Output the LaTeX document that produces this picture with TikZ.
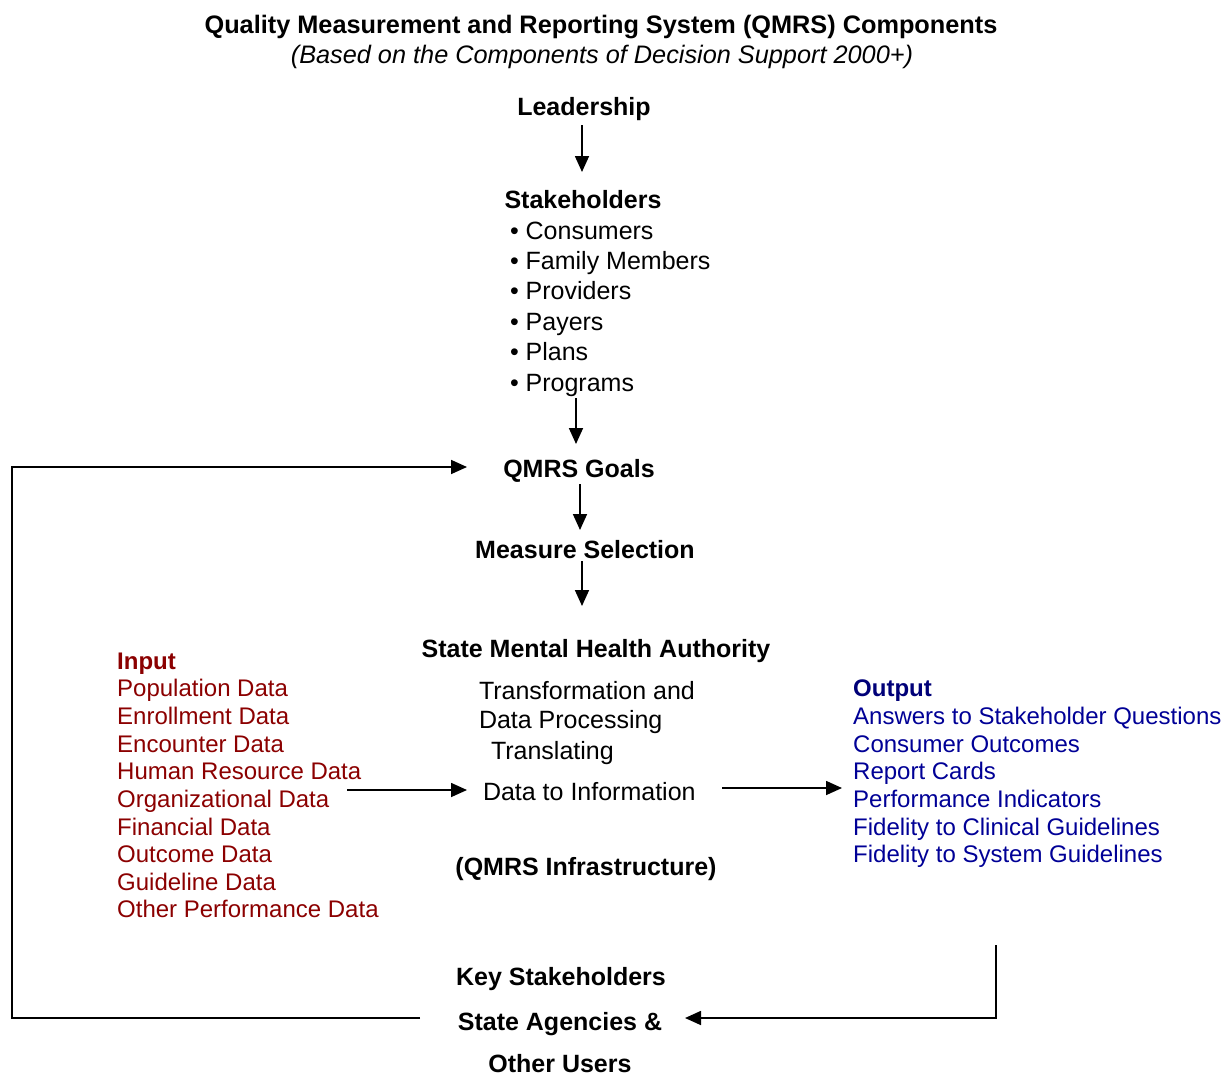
\documentclass[tikz,border=0pt]{standalone}
\usepackage{fontspec}
\setmainfont{Liberation Sans}
\usetikzlibrary{arrows.meta}
\definecolor{inred}{RGB}{139,0,0}
\definecolor{outblue}{RGB}{0,0,150}
\definecolor{outnavy}{RGB}{0,0,120}
\tikzset{
  base/.style={inner sep=0pt,outer sep=0pt,anchor=base,font=\fontsize{25}{30}\selectfont},
  head/.style={base,font=\fontsize{25}{30}\selectfont\bfseries},
  bodytxt/.style={base,anchor=base west},
  inlist/.style={inner sep=0pt,anchor=base west,text=inred,font=\fontsize{24}{28}\selectfont},
  outlist/.style={inner sep=0pt,anchor=base west,text=outblue,font=\fontsize{24}{28}\selectfont},
  arr/.style={line width=1.7pt,-{Triangle[length=16pt,width=14pt]}},
  ln/.style={line width=1.7pt}
}
\begin{document}
\begin{tikzpicture}[x=1pt,y=-1pt]
\useasboundingbox (0,0) rectangle (1229,1076);
% title
\node[head,font=\fontsize{25.3}{30}\selectfont\bfseries] (title) at (601,34) {Quality Measurement and Reporting System (QMRS) Components};
\node[base,font=\fontsize{25.3}{30}\selectfont\itshape] (sub) at (602,63) {(Based on the Components of Decision Support 2000+)};
% main chain
\node[head] (lead) at (584,115) {Leadership};
\node[head] (stake) at (583,208) {Stakeholders};
\node[bodytxt] (s1) at (510,239) {• Consumers};
\node[bodytxt] (s2) at (510,269) {• Family Members};
\node[bodytxt] (s3) at (510,299) {• Providers};
\node[bodytxt] (s4) at (510,330) {• Payers};
\node[bodytxt] (s5) at (510,360) {• Plans};
\node[bodytxt] (s6) at (510,391) {• Programs};
\node[head] (goals) at (579,477) {QMRS Goals};
\node[head] (meas) at (585,558) {Measure Selection};
\node[head] (smha) at (596,657) {State Mental Health Authority};
\node[bodytxt] (t1) at (479,699) {Transformation and};
\node[bodytxt] (t2) at (479,728) {Data Processing};
\node[bodytxt] (t3) at (491,759) {Translating};
\node[bodytxt] (t4) at (483,800) {Data to Information};
\node[head] (infra) at (586,875) {(QMRS Infrastructure)};
% input
\node[inlist,font=\fontsize{24}{28}\selectfont\bfseries] (in0) at (117,669) {Input};
\node[inlist] (in1) at (117,696) {Population Data};
\node[inlist] (in2) at (117,724) {Enrollment Data};
\node[inlist] (in3) at (117,752) {Encounter Data};
\node[inlist] (in4) at (117,779) {Human Resource Data};
\node[inlist] (in5) at (117,807) {Organizational Data};
\node[inlist] (in6) at (117,835) {Financial Data};
\node[inlist] (in7) at (117,862) {Outcome Data};
\node[inlist] (in8) at (117,890) {Guideline Data};
\node[inlist] (in9) at (117,917) {Other Performance Data};
% output
\node[outlist,text=outnavy,font=\fontsize{24}{28}\selectfont\bfseries] (out0) at (853,696) {Output};
\node[outlist] (out1) at (853,724) {Answers to Stakeholder Questions};
\node[outlist] (out2) at (853,752) {Consumer Outcomes};
\node[outlist] (out3) at (853,779) {Report Cards};
\node[outlist] (out4) at (853,807) {Performance Indicators};
\node[outlist] (out5) at (853,835) {Fidelity to Clinical Guidelines};
\node[outlist] (out6) at (853,862) {Fidelity to System Guidelines};
% users
\node[head] (key) at (561,985) {Key Stakeholders};
\node[head] (agen) at (560,1030) {State Agencies \&};
\node[head] (other) at (560,1072) {Other Users};
% connector coordinates
\coordinate (a1s) at (582,125); \coordinate (a1e) at (582,172);
\coordinate (a2s) at (576,398); \coordinate (a2e) at (576,444);
\coordinate (a3s) at (580,484); \coordinate (a3e) at (580,530);
\coordinate (a4s) at (582,561); \coordinate (a4e) at (582,606);
\coordinate (inA) at (347,790); \coordinate (inB) at (467,790);
\coordinate (outA) at (722,788); \coordinate (outB) at (842,788);
\coordinate (fbTop) at (996,945); \coordinate (fbCorner) at (996,1018); \coordinate (fbTip) at (685,1018);
\coordinate (lpStart) at (420,1018); \coordinate (lpBL) at (12,1018); \coordinate (lpTL) at (12,467); \coordinate (lpTip) at (467,467);
\draw[arr] (a1s) -- (a1e);
\draw[arr] (a2s) -- (a2e);
\draw[arr] (a3s) -- (a3e);
\draw[arr] (a4s) -- (a4e);
\draw[arr] (inA) -- (inB);
\draw[arr] (outA) -- (outB);
\draw[arr] (fbTop) -- (fbCorner) -- (fbTip);
\draw[arr] (lpStart) -- (lpBL) -- (lpTL) -- (lpTip);
\end{tikzpicture}
\end{document}
